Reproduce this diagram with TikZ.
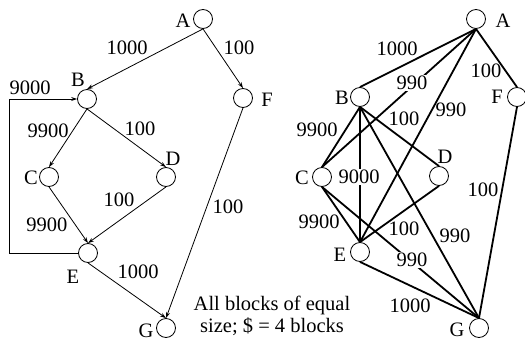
\documentclass[tikz,border=0pt]{standalone}
\usepackage{fontspec}
\setmainfont{Liberation Serif}
\usetikzlibrary{arrows.meta}
\begin{document}
\begin{tikzpicture}[x=1pt,y=-1pt,
  font=\fontsize{20.5}{22}\selectfont,
  vtx/.style={circle,draw,minimum size=19pt,inner sep=0pt,line width=0.8pt},
  lbl/.style={inner sep=0pt},
  wlbl/.style={fill=white,inner sep=1.5pt},
  arr/.style={line width=0.8pt,-{Stealth[length=6pt,width=4pt]}},
  thk/.style={line width=1.8pt}]
\useasboundingbox (0,0) rectangle (525,343);
% ---------- left graph ----------
\node[vtx] (A) at (203,19) {};
\node[vtx] (B) at (87,99) {};
\node[vtx] (F) at (243,98) {};
\node[vtx] (C) at (49,177) {};
\node[vtx] (D) at (166,177) {};
\node[vtx] (E) at (88,253) {};
\node[vtx] (G) at (166,328) {};
\node[lbl] at (183,21) {A};
\node[lbl] at (78,80) {B};
\node[lbl] at (267,100) {F};
\node[lbl] at (31,178) {C};
\node[lbl] at (173,159) {D};
\node[lbl] at (73,277) {E};
\node[lbl] at (146,331) {G};
\coordinate (l1) at (9,253);
\coordinate (l2) at (9,99);
\draw[arr] (A.south) -- (B.north);
\draw[arr] (A.south) -- (F.north);
\draw[arr] (B.south) -- (C.north);
\draw[arr] (B.south) -- (D.north);
\draw[arr] (C.south) -- (E.north);
\draw[arr] (D.south) -- (E.north);
\draw[arr] (E.south) -- (G.north);
\draw[arr] (F.south) -- (G.north);
\draw[arr] (E.west) -- (l1) -- (l2) -- (B.west);
\node[lbl] at (127,48) {1000};
\node[lbl] at (239,48) {100};
\node[lbl] at (30,88) {9000};
\node[lbl] at (48,131) {9900};
\node[lbl] at (140,129) {100};
\node[lbl] at (119,200) {100};
\node[lbl] at (47,225) {9900};
\node[lbl] at (138,272) {1000};
\node[lbl] at (228,207) {100};
% ---------- caption ----------
\node[lbl,align=center] (cap) at (272,316) {All blocks of equal\\size; \$ = 4 blocks};
% ---------- right graph ----------
\node[vtx] (RA) at (476,19) {};
\node[vtx] (RB) at (360,97) {};
\node[vtx] (RF) at (517,97) {};
\node[vtx] (RC) at (322,177) {};
\node[vtx] (RD) at (439,176) {};
\node[vtx] (RE) at (360,252) {};
\node[vtx] (RG) at (479,328) {};
\node[lbl] at (503,21) {A};
\node[lbl] at (342,98) {B};
\node[lbl] at (497,97) {F};
\node[lbl] at (302,178) {C};
\node[lbl] at (445,157) {D};
\node[lbl] at (340,255) {E};
\node[lbl] at (457,330) {G};
\draw[thk] (RA.south) -- (RB.north);
\draw[thk] (RA.south) -- (RF.north);
\draw[thk] (RA.south) -- (RC.north);
\draw[thk] (RA.south) -- (RE.north);
\draw[thk] (RB.south) -- (RC.north);
\draw[thk] (RB.south) -- (RE.north);
\draw[thk] (RB.south) -- (RD.north);
\draw[thk] (RB.south) -- (RG.north);
\draw[thk] (RC.south) -- (RE.north);
\draw[thk] (RC.south) -- (RG.north);
\draw[thk] (RD.south) -- (RE.north);
\draw[thk] (RE.south) -- (RG.north);
\draw[thk] (RF.south) -- (RG.north);
\node[lbl] at (397,49) {1000};
\node[wlbl] at (412,83) {990};
\node[lbl] at (486,71) {100};
\node[lbl] at (451,110) {990};
\node[lbl] at (404,119) {100};
\node[lbl] at (317,130) {9900};
\node[wlbl] at (359,177) {9000};
\node[lbl] at (319,222) {9900};
\node[lbl] at (404,229) {100};
\node[lbl] at (455,236) {990};
\node[wlbl] at (412,260) {990};
\node[lbl] at (410,306) {1000};
\node[lbl] at (483,190) {100};
\end{tikzpicture}
\end{document}
